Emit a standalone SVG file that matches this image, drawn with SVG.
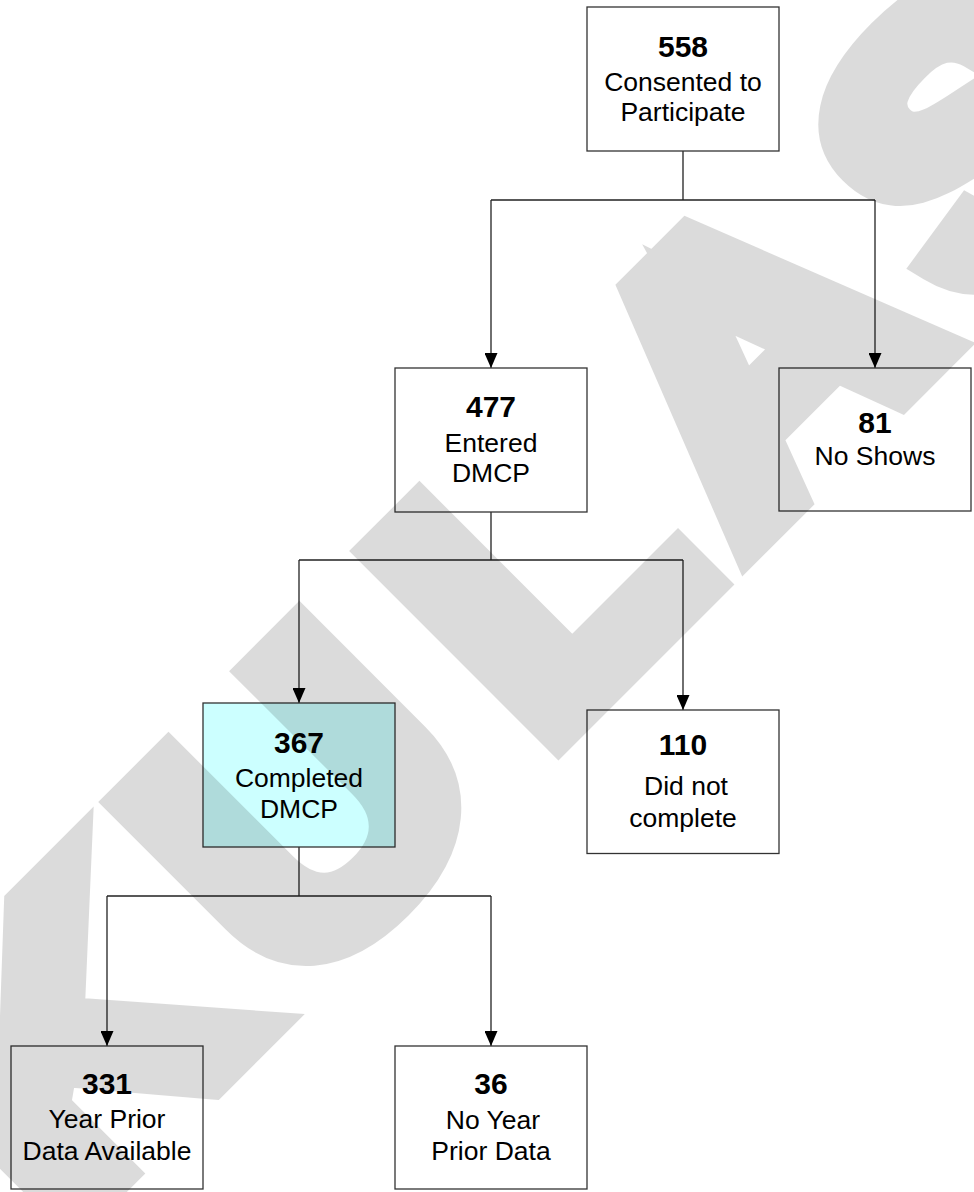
<svg xmlns="http://www.w3.org/2000/svg" width="974" height="1192" viewBox="0 0 974 1192">
<style>
.box{fill:#ffffff;stroke:#333333;stroke-width:1.3}
.hl{fill:#ccffff}
.num{font-family:"Liberation Sans",Arial,sans-serif;font-weight:bold;font-size:30px;fill:#000;text-anchor:middle}
.lbl{font-family:"Liberation Sans",Arial,sans-serif;font-size:26.5px;fill:#000;text-anchor:middle}
.conn{fill:none;stroke:#222222;stroke-width:1.3}
.wm{font-family:"Liberation Sans",Arial,sans-serif;font-weight:bold;font-size:375px;fill:#000;stroke:#000;stroke-width:38;stroke-linejoin:miter}
</style>
<defs>
<marker id="arr" markerUnits="userSpaceOnUse" viewBox="0 0 15 13" refX="15" refY="6.5" markerWidth="15" markerHeight="13" orient="auto">
<path d="M0,0 L15,6.5 L0,13 Z" fill="#000"/>
</marker>
</defs>
<rect width="974" height="1192" fill="#ffffff"/>
<g id="connectors">
<path class="conn" d="M683,151 V200 M491,200 H875"/>
<path class="conn" d="M491,200 V368" marker-end="url(#arr)"/>
<path class="conn" d="M875,200 V368" marker-end="url(#arr)"/>
<path class="conn" d="M491,512 V560 M299,560 H683"/>
<path class="conn" d="M299,560 V703" marker-end="url(#arr)"/>
<path class="conn" d="M683,560 V710" marker-end="url(#arr)"/>
<path class="conn" d="M299,847 V896 M107,896 H491"/>
<path class="conn" d="M107,896 V1046" marker-end="url(#arr)"/>
<path class="conn" d="M491,896 V1046" marker-end="url(#arr)"/>
</g>
<g id="n558">
<rect class="box" x="587" y="7" width="192" height="144"/>
<text class="num" x="683" y="57">558</text>
<text class="lbl" x="683" y="90.5">Consented to</text>
<text class="lbl" x="683" y="120.5">Participate</text>
</g>
<g id="n477">
<rect class="box" x="395" y="368" width="192" height="144"/>
<text class="num" x="491" y="416.5">477</text>
<text class="lbl" x="491" y="451.5">Entered</text>
<text class="lbl" x="491" y="481.5">DMCP</text>
</g>
<g id="n81">
<rect class="box" x="779" y="368" width="192" height="143"/>
<text class="num" x="875" y="433">81</text>
<text class="lbl" x="875" y="465">No Shows</text>
</g>
<g id="n367">
<rect class="box hl" x="203" y="703" width="192" height="144"/>
<text class="num" x="299" y="753">367</text>
<text class="lbl" x="299" y="786.5">Completed</text>
<text class="lbl" x="299" y="818">DMCP</text>
</g>
<g id="n110">
<rect class="box" x="587" y="710" width="192" height="143.5"/>
<text class="num" x="683" y="755">110</text>
<text class="lbl" x="686" y="795"> Did not</text>
<text class="lbl" x="683" y="826.5">complete</text>
</g>
<g id="n331">
<rect class="box" x="11" y="1046" width="192" height="143"/>
<text class="num" x="107" y="1094">331</text>
<text class="lbl" x="107" y="1128">Year Prior</text>
<text class="lbl" x="107" y="1160">Data Available</text>
</g>
<g id="n36">
<rect class="box" x="395" y="1046" width="192" height="143"/>
<text class="num" x="491" y="1094">36</text>
<text class="lbl" x="493" y="1129"> No Year</text>
<text class="lbl" x="491" y="1160">Prior Data</text>
</g>
<g id="watermark" opacity="0.137">
<g transform="translate(560,756) rotate(-45) scale(1.08,1)">
<text class="wm" x="-643 -336 -10 254.6 558" y="-17">KULAS</text>
</g>
</g>
</svg>
